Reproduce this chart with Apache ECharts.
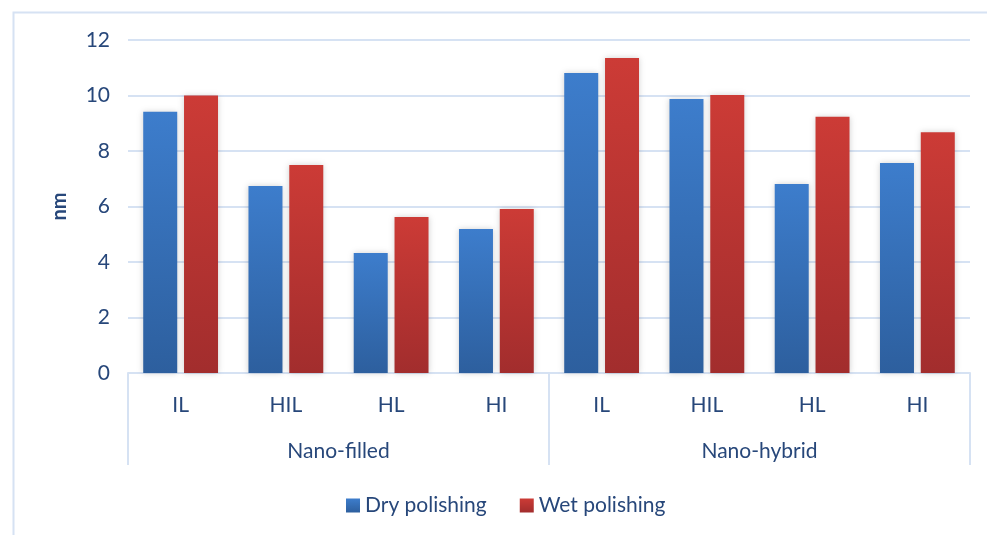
<!DOCTYPE html>
<html>
<head>
<meta charset="utf-8">
<script src="https://cdn.jsdelivr.net/npm/echarts@6/dist/echarts.min.js"></script>
<style>
  html, body { margin: 0; padding: 0; background: #ffffff; }
  #chart { width: 987px; height: 535px; }
</style>
</head>
<body>
<div id="chart"></div>
<script>
// Surface roughness (nm) by light-curing mode, grouped by composite type
const groups = ['Nano-filled', 'Nano-hybrid'];
const modes = ['IL', 'HIL', 'HL', 'HI'];
const categories = groups.flatMap(() => modes);
const dryPolishing = [9.41, 6.74, 4.32, 5.19, 10.81, 9.87, 6.81, 7.57];
const wetPolishing = [10.0, 7.50, 5.62, 5.91, 11.35, 10.02, 9.23, 8.68];
const yTicks = { min: 0, max: 12, interval: 2 };

const textColor = '#27477A';
const lineColor = '#D6E2F3';
const fontFamily = 'Lato, "Open Sans", sans-serif';
const fontSize = 21;

function vGrad(top, bottom) {
  return new echarts.graphic.LinearGradient(0, 0, 0, 1, [
    { offset: 0, color: top },
    { offset: 1, color: bottom }
  ]);
}

const chart = echarts.init(document.getElementById('chart'), null, { renderer: 'canvas' });

const barShadow = {
  shadowBlur: 6,
  shadowColor: 'rgba(0,0,0,0.18)'
};

chart.setOption({
  backgroundColor: '#ffffff',
  animation: false,
  textStyle: { fontFamily: fontFamily, color: textColor },
  graphic: [{
    type: 'rect',
    left: 11, top: 10,
    shape: { width: 1000, height: 600 },
    style: { fill: 'none', stroke: lineColor, lineWidth: 2 },
    silent: true
  }],
  grid: { left: 128, right: 17, top: 40, bottom: 162, containLabel: false },
  legend: {
    left: 341,
    top: 490,
    itemWidth: 14,
    itemHeight: 14,
    itemGap: 33,
    icon: 'rect',
    textStyle: { fontSize: fontSize, color: textColor, fontFamily: fontFamily },
    data: [
      { name: 'Dry polishing', itemStyle: { color: vGrad('#3D7DCC', '#2D5F9E') } },
      { name: 'Wet polishing', itemStyle: { color: vGrad('#CC3B36', '#A22D2D') } }
    ]
  },
  xAxis: [
    {
      type: 'category',
      data: categories,
      position: 'bottom',
      axisLine: { show: true, lineStyle: { color: lineColor, width: 2 } },
      axisTick: { show: false },
      axisLabel: { fontSize: fontSize, color: textColor, margin: 22 },
      splitLine: { show: false }
    },
    {
      type: 'category',
      data: groups,
      position: 'bottom',
      boundaryGap: true,
      axisLine: { show: false },
      axisTick: { show: true, interval: 0, length: 92, inside: false, lineStyle: { color: lineColor, width: 2 } },
      axisLabel: { fontSize: fontSize, color: textColor, margin: 68, interval: 0 },
      splitLine: { show: false }
    }
  ],
  yAxis: {
    type: 'value',
    min: yTicks.min,
    max: yTicks.max,
    interval: yTicks.interval,
    name: 'nm',
    nameLocation: 'middle',
    nameGap: 58,
    nameRotate: 90,
    nameTextStyle: { fontSize: 20, fontWeight: 'bold', color: textColor },
    axisLine: { show: false },
    axisTick: { show: false },
    axisLabel: { fontSize: fontSize, color: textColor, margin: 18 },
    splitLine: { lineStyle: { color: lineColor, width: 2 } }
  },
  series: [
    {
      name: 'Dry polishing',
      type: 'bar',
      xAxisIndex: 0,
      data: dryPolishing,
      barWidth: 34,
      barGap: '20%',
      itemStyle: Object.assign({ color: vGrad('#3D7DCC', '#2D5F9E') }, barShadow)
    },
    {
      name: 'Wet polishing',
      type: 'bar',
      xAxisIndex: 0,
      data: wetPolishing,
      barWidth: 34,
      barGap: '20%',
      itemStyle: Object.assign({ color: vGrad('#CC3B36', '#A22D2D') }, barShadow)
    }
  ]
});
</script>
</body>
</html>
